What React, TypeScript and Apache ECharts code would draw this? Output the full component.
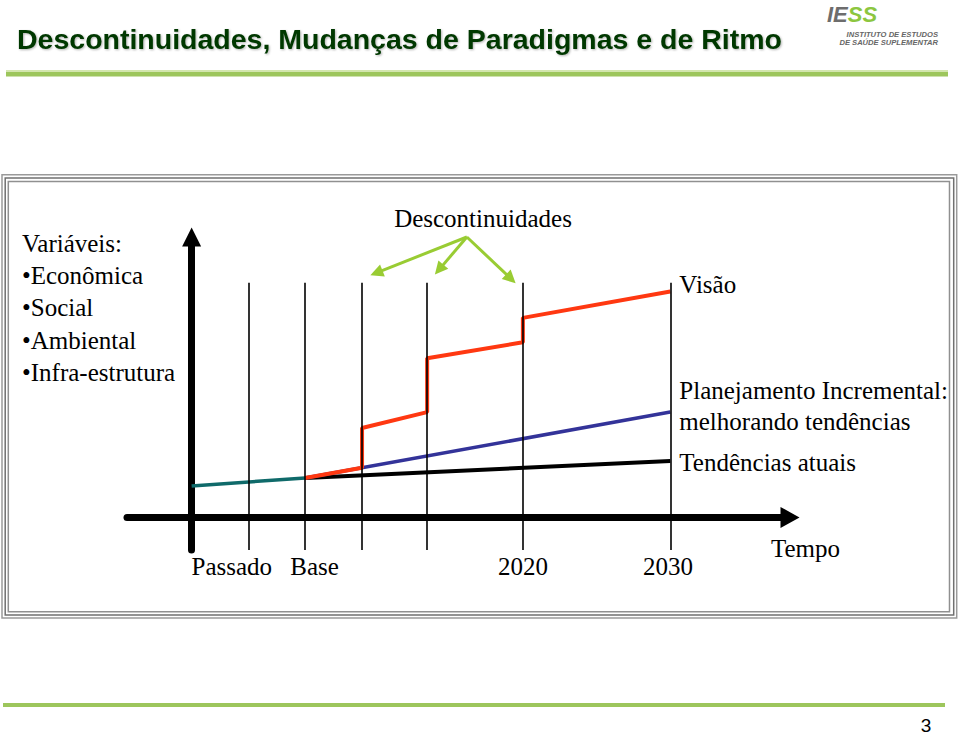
import React, { useEffect, useRef } from "react";
import * as echarts from "echarts";

// ---- data (schematic units: x = time, y = variable level) ----
const guideX = [12, 23.7, 35.6, 49.2, 69.2, 100];
const guideTop = 72;
const guideBottom = -10;
const tickValues = [8.4, 25.7, 69.2, 99.5];
const tickLabels = ["Passado", "Base", "2020", "2030"];
const pastTrend = [
  [0, 9.6],
  [23.7, 12.1],
];
const currentTrend = [
  [23.7, 12.1],
  [100, 17.3],
];
const incrementalPlan = [
  [23.7, 12.1],
  [100, 32.3],
];
const vision = [
  [23.7, 12.1],
  [35.6, 15.2],
  [35.6, 27.4],
  [49.2, 32.3],
  [49.2, 48.8],
  [69.2, 53.7],
  [69.2, 61.2],
  [100, 69.3],
];
const variables = ["Variáveis:", "•Econômica", "•Social", "•Ambiental", "•Infra-estrutura"];
const arrowFrom = [57.5, 86];
const arrowTo = [
  [38.6, 75.0],
  [51.7, 76.0],
  [66.7, 73.2],
];

const SERIF = '"Liberation Serif", "Times New Roman", serif';
const SANS = '"Liberation Sans", Arial, sans-serif';

export default function App() {
  const ref = useRef<HTMLDivElement>(null);

  useEffect(() => {
    const chart = echarts.init(ref.current!, null, { renderer: "svg" });
    const serifText = { fontFamily: SERIF, fontSize: 25, color: "#000" };

    const option: any = {
      animation: false,
      backgroundColor: "#fff",
      title: {
        text: "Descontinuidades, Mudanças de Paradigmas e de Ritmo",
        left: 17,
        top: 24,
        padding: 0,
        textStyle: {
          fontFamily: SANS,
          fontSize: 28.5,
          fontWeight: "bold",
          color: "#053805",
          textShadowColor: "rgba(0,0,0,0.3)",
          textShadowBlur: 2,
          textShadowOffsetX: 1,
          textShadowOffsetY: 1,
        },
      },
      grid: { left: 127, right: 170, top: 237, bottom: 185 },
      xAxis: {
        type: "value",
        min: -13.5,
        max: 125,
        name: "Tempo",
        nameLocation: "end",
        nameGap: -19,
        nameMoveOverlap: false,
        nameTextStyle: {
          ...serifText,
          align: "left",
          verticalAlign: "top",
          padding: [19, 0, 0, 0],
        },
        axisLine: {
          onZero: true,
          symbol: ["none", "triangle"],
          symbolSize: [21, 19],
          lineStyle: { color: "#000", width: 7 },
        },
        axisTick: { show: false },
        splitLine: { show: false },
        axisLabel: {
          ...serifText,
          customValues: tickValues,
          margin: 3.5,
          hideOverlap: false,
          formatter: (v: number) => {
            let best = 0;
            tickValues.forEach((t, i) => {
              if (Math.abs(t - v) < Math.abs(tickValues[best] - v)) best = i;
            });
            return tickLabels[best];
          },
        },
      },
      yAxis: {
        type: "value",
        min: -10,
        max: 86,
        axisLine: {
          onZero: true,
          symbol: ["none", "triangle"],
          symbolSize: [19, 19],
          lineStyle: { color: "#000", width: 7 },
        },
        axisTick: { show: false },
        axisLabel: { show: false },
        splitLine: { show: false },
      },
      series: [
        {
          name: "guides",
          type: "line",
          data: [],
          silent: true,
          markLine: {
            silent: true,
            symbol: "none",
            label: { show: false },
            lineStyle: { color: "#000", width: 1.6, type: "solid" },
            data: guideX.map((x) => [{ coord: [x, guideBottom] }, { coord: [x, guideTop] }]),
          },
        },
        {
          name: "Passado",
          type: "line",
          data: pastTrend,
          symbol: "none",
          lineStyle: { color: "#0f6a6a", width: 3.5 },
        },
        {
          name: "Tendências atuais",
          type: "line",
          data: currentTrend,
          symbol: "none",
          lineStyle: { color: "#000", width: 4 },
          endLabel: {
            show: true,
            formatter: "Tendências atuais",
            distance: 9,
            offset: [0, 1.3],
            ...serifText,
          },
        },
        {
          name: "Planejamento Incremental",
          type: "line",
          data: incrementalPlan,
          symbol: "none",
          lineStyle: { color: "#333399", width: 3.5 },
          endLabel: {
            show: true,
            formatter: "Planejamento Incremental:\nmelhorando tendências",
            distance: 9,
            offset: [0, -5.8],
            lineHeight: 30.7,
            ...serifText,
          },
        },
        {
          name: "Visão",
          type: "line",
          data: vision,
          symbol: "none",
          lineStyle: { color: "#ff3811", width: 4 },
          endLabel: {
            show: true,
            formatter: "Visão",
            distance: 9,
            offset: [0, -7.2],
            ...serifText,
          },
        },
        {
          name: "Descontinuidades",
          type: "line",
          data: [],
          silent: true,
          markLine: {
            silent: true,
            symbol: ["none", "triangle"],
            symbolSize: [13, 13],
            label: { show: false },
            lineStyle: { color: "#99cc33", width: 3, type: "solid" },
            data: arrowTo.map((t) => [{ coord: arrowFrom }, { coord: t }]),
          },
        },
      ],
      graphic: [
        // header rule
        { type: "rect", shape: { x: 6, y: 70, width: 942, height: 2 }, style: { fill: "#d3e6ae" } },
        { type: "rect", shape: { x: 6, y: 72, width: 942, height: 4.5 }, style: { fill: "#9dc65c" } },
        // footer rule
        { type: "rect", shape: { x: 3, y: 703, width: 942, height: 4 }, style: { fill: "#9dc65c" } },
        {
          type: "text",
          x: 926,
          y: 725,
          style: { text: "3", font: `19px ${SANS}`, fill: "#000", align: "center", verticalAlign: "middle" },
        },
        // logo
        {
          type: "text",
          x: 827,
          y: 3,
          style: {
            text: "{g|IE}{s|SS}",
            rich: {
              g: { fontFamily: SANS, fontSize: 22, fontWeight: "bold", fontStyle: "italic", fill: "#6d6d6d" },
              s: { fontFamily: SANS, fontSize: 22, fontWeight: "bold", fontStyle: "italic", fill: "#8cc63f" },
            },
          },
        },
        {
          type: "text",
          x: 938,
          y: 34,
          style: {
            text: "INSTITUTO DE ESTUDOS",
            font: `italic bold 7.6px ${SANS}`,
            fill: "#666",
            align: "right",
            verticalAlign: "middle",
          },
        },
        {
          type: "text",
          x: 938,
          y: 42,
          style: {
            text: "DE SAÚDE SUPLEMENTAR",
            font: `italic bold 7.6px ${SANS}`,
            fill: "#666",
            align: "right",
            verticalAlign: "middle",
          },
        },
        // frame
        {
          type: "rect",
          shape: { x: 2, y: 174.7, width: 954.7, height: 443.3 },
          style: { fill: "none", stroke: "#9a9a9a", lineWidth: 1.5 },
        },
        {
          type: "rect",
          shape: { x: 5.2, y: 178, width: 948.5, height: 437 },
          style: { fill: "none", stroke: "#707070", lineWidth: 1.5 },
        },
        {
          type: "rect",
          shape: { x: 8.3, y: 181.4, width: 941.2, height: 430.3 },
          style: { fill: "none", stroke: "#909090", lineWidth: 1.5 },
        },
        // variables list
        {
          type: "text",
          x: 22,
          y: 227.2,
          style: {
            text: variables.join("\n"),
            font: `25px ${SERIF}`,
            lineHeight: 32.25,
            fill: "#000",
            align: "left",
            verticalAlign: "top",
          },
        },
        {
          type: "text",
          x: 483,
          y: 218.3,
          style: {
            text: "Descontinuidades",
            font: `25px ${SERIF}`,
            fill: "#000",
            align: "center",
            verticalAlign: "middle",
          },
        },
      ],
    };

    chart.setOption(option);
    return () => chart.dispose();
  }, []);

  return (
    <div
      ref={ref}
      style={{ position: "fixed", left: 0, top: 0, width: 960, height: 735, background: "#fff" }}
    />
  );
}
